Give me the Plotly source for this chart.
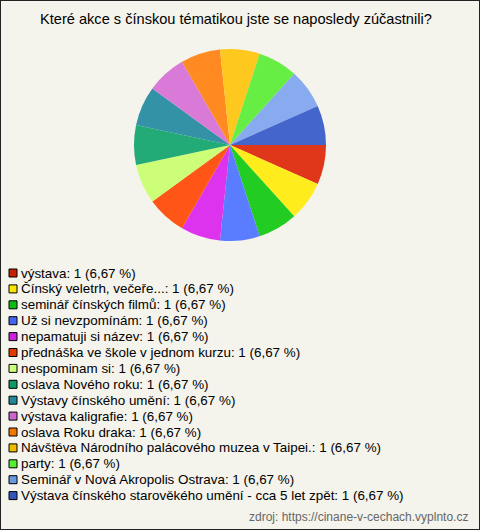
import plotly.graph_objects as go

labels = [
    "výstava",
    "Čínský veletrh, večeře...",
    "seminář čínských filmů",
    "Už si nevzpomínám",
    "nepamatuji si název",
    "přednáška ve škole v jednom kurzu",
    "nespominam si",
    "oslava Nového roku",
    "Výstavy čínského umění",
    "výstava kaligrafie",
    "oslava Roku draka",
    "Návštěva Národního palácového muzea v Taipei.",
    "party",
    "Seminář v Nová Akropolis Ostrava",
    "Výstava čínského starověkého umění - cca 5 let zpět",
]
counts = [1] * 15
percent_text = ["6,67 %"] * 15

slice_colors = [
    "#e0371a", "#ffec1c", "#22cc22", "#5a7cff", "#dd33ee",
    "#ff5516", "#ccff77", "#22aa77", "#3392a6", "#d97ad9",
    "#ff8a22", "#ffc81e", "#66ee44", "#88aaee", "#4466cc",
]
legend_colors = [
    "#c42200", "#ffe600", "#11bb11", "#4466ee", "#cc22dd",
    "#e03c00", "#ccff77", "#119966", "#228899", "#cc66cc",
    "#ee7700", "#eebb00", "#55ee33", "#6699dd", "#3355bb",
]

W, H = 480, 530
fig = go.Figure()

cx, cy, r = 230, 145, 96
fig.add_trace(go.Pie(
    labels=labels,
    values=counts,
    sort=False,
    direction="clockwise",
    rotation=90,
    marker=dict(colors=slice_colors, line=dict(width=0)),
    textinfo="none",
    hoverinfo="label+value+percent",
    showlegend=False,
    domain=dict(x=[(cx - r) / W, (cx + r) / W], y=[(H - cy - r) / H, (H - cy + r) / H]),
))

annotations = []
shapes = []
font_family = "Liberation Sans, Arial, sans-serif"

first_y, step = 273, 15.9
for i, (lab, c, p, col) in enumerate(zip(labels, counts, percent_text, legend_colors)):
    y = first_y + i * step
    shapes.append(dict(
        type="rect", xref="paper", yref="paper",
        x0=9 / W, x1=17 / W, y0=(H - y - 4) / H, y1=(H - y + 4) / H,
        fillcolor=col, line=dict(color="#000000", width=1),
    ))
    annotations.append(dict(
        x=19 / W, y=(H - y) / H, xref="paper", yref="paper",
        xanchor="left", yanchor="middle", showarrow=False,
        text=f"{lab}: {c} ({p})",
        font=dict(family=font_family, size=13.4, color="#000000"),
    ))

annotations.append(dict(
    x=236 / W, y=(H - 19) / H, xref="paper", yref="paper",
    xanchor="center", yanchor="middle", showarrow=False,
    text="Které akce s čínskou tématikou jste se naposledy zúčastnili?",
    font=dict(family=font_family, size=14.6, color="#000000"),
))
annotations.append(dict(
    x=470 / W, y=(H - 517) / H, xref="paper", yref="paper",
    xanchor="right", yanchor="middle", showarrow=False,
    text="zdroj: https://cinane-v-cechach.vyplnto.cz",
    font=dict(family=font_family, size=12, color="#666666"),
))

shapes.append(dict(
    type="rect", xref="paper", yref="paper", x0=0, x1=1, y0=0, y1=1,
    line=dict(color="#222222", width=2), fillcolor="rgba(0,0,0,0)", layer="above",
))

fig.update_layout(
    width=W, height=H,
    margin=dict(l=0, r=0, t=0, b=0),
    paper_bgcolor="#f4f3ec",
    plot_bgcolor="#f4f3ec",
    annotations=annotations,
    shapes=shapes,
)

fig.write_html(
    "out.html",
    config={"displayModeBar": False},
    post_script="document.body.style.margin='0';document.body.style.padding='0';document.body.style.overflow='hidden';",
)
